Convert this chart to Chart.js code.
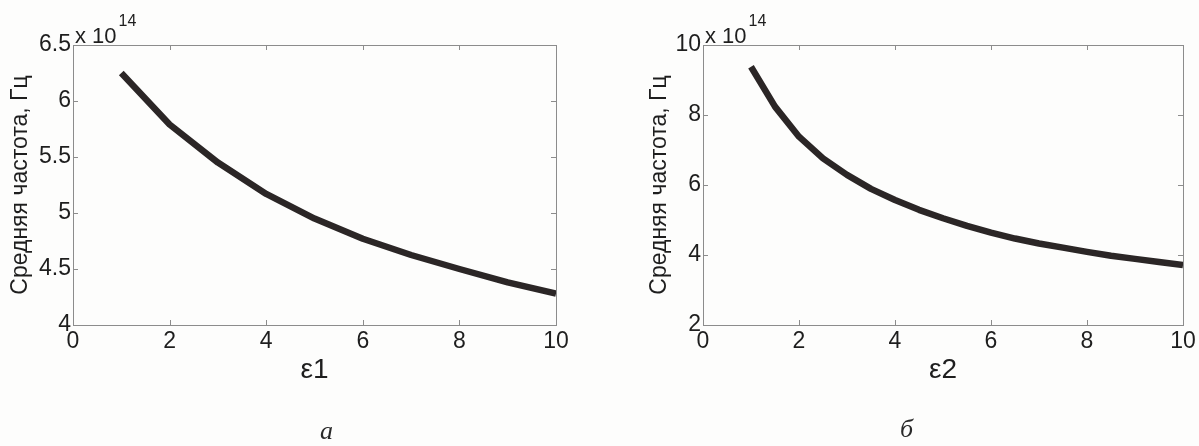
<!DOCTYPE html>
<html>
<head>
<meta charset="utf-8">
<script src="https://cdn.jsdelivr.net/npm/chart.js@4.4.1/dist/chart.umd.min.js"></script>
<style>
    body { margin: 0; background: #fdfdfc; width: 1199px; height: 446px; position: relative; overflow: hidden; }
    .panel { position: absolute; top: 0; height: 446px; }
    .cap { position: absolute; font-family: "Liberation Serif", serif; font-style: italic; font-size: 26px; color: #2a2a2a; }
</style>
</head>
<body>
<div class="panel" style="left:0;width:600px"><canvas id="chartA" width="600" height="446"></canvas></div>
<div class="panel" style="left:600px;width:599px"><canvas id="chartB" width="599" height="446"></canvas></div>
<div class="cap" style="left:320px;top:416px">а</div>
<div class="cap" style="left:900px;top:414px">б</div>
<script>
// ------------------------------
// Data (frequency in units of 10^14 Hz)
// ------------------------------
const eps1 = [1, 2, 3, 4, 5, 6, 7, 8, 9, 10];
const freq1 = [6.25, 5.79, 5.45, 5.17, 4.95, 4.77, 4.625, 4.50, 4.38, 4.28];

const eps2 = [1, 1.5, 2, 2.5, 3, 3.5, 4, 4.5, 5, 5.5, 6, 6.5, 7, 7.5, 8, 8.5, 9, 9.5, 10];
const freq2 = [9.38, 8.24, 7.38, 6.76, 6.29, 5.89, 5.57, 5.29, 5.05, 4.83, 4.64, 4.47, 4.33, 4.21, 4.09, 3.98, 3.89, 3.80, 3.71];

const xTicks = [0, 2, 4, 6, 8, 10];
const yTicks1 = [4, 4.5, 5, 5.5, 6, 6.5];
const yTicks2 = [2, 4, 6, 8, 10];

const yTitle = 'Средняя частота, Гц';
const exponent = '14';

const FONT = '"Liberation Sans", Arial, sans-serif';
const TEXT = '#1e1e1e';
const AXIS = '#8c8c8c';

// MATLAB-like box with inward ticks + "x 10^14" multiplier
const matlabBox = {
    id: 'matlabBox',
    afterDraw(chart) {
        const { ctx, chartArea: a, scales: { x, y } } = chart;
        ctx.save();
        ctx.strokeStyle = AXIS;
        ctx.lineWidth = 1;
        ctx.strokeRect(a.left + 0.5, a.top + 0.5, a.right - a.left, a.bottom - a.top);
        ctx.beginPath();
        x.ticks.forEach(t => {
            const px = Math.round(x.getPixelForValue(t.value)) + 0.5;
            ctx.moveTo(px, a.bottom); ctx.lineTo(px, a.bottom - 5);
            ctx.moveTo(px, a.top); ctx.lineTo(px, a.top + 5);
        });
        y.ticks.forEach(t => {
            const py = Math.round(y.getPixelForValue(t.value)) + 0.5;
            ctx.moveTo(a.left, py); ctx.lineTo(a.left + 5, py);
            ctx.moveTo(a.right, py); ctx.lineTo(a.right - 5, py);
        });
        ctx.stroke();

        ctx.fillStyle = TEXT;
        ctx.textBaseline = 'alphabetic';
        ctx.textAlign = 'left';
        ctx.font = '22px ' + FONT;
        const label = 'x 10';
        ctx.fillText(label, a.left + 2, a.top - 2);
        const w = ctx.measureText(label).width;
        ctx.font = '16px ' + FONT;
        ctx.fillText(exponent, a.left + 4 + w, a.top - 19);
        ctx.restore();
    }
};

function makeChart(id, xs, ys, yMin, yMax, yList, xTitle, yAxisWidth, rightPad, yTitlePad) {
    const points = xs.map((v, i) => ({ x: v, y: ys[i] }));
    return new Chart(document.getElementById(id), {
        type: 'line',
        data: {
            datasets: [{
                data: points,
                borderColor: '#2b2626',
                borderWidth: 6.5,
                pointRadius: 0,
                tension: 0,
                fill: false,
                borderJoinStyle: 'round'
            }]
        },
        options: {
            responsive: false,
            animation: false,
            layout: { padding: { top: 45, right: rightPad, left: 0, bottom: 0 } },
            plugins: { legend: { display: false }, tooltip: { enabled: false } },
            scales: {
                x: {
                    type: 'linear',
                    min: 0, max: 10,
                    afterBuildTicks: s => { s.ticks = xTicks.map(v => ({ value: v })); },
                    afterFit: s => { s.height = 121; },
                    grid: { display: false, drawTicks: false },
                    border: { display: false },
                    ticks: { color: TEXT, padding: 3, maxRotation: 0, font: { family: FONT, size: 23 } },
                    title: { display: true, text: xTitle, color: TEXT, padding: { top: 0, bottom: 59 }, font: { family: FONT, size: 28 } }
                },
                y: {
                    type: 'linear',
                    min: yMin, max: yMax,
                    afterBuildTicks: s => { s.ticks = yList.map(v => ({ value: v })); },
                    afterFit: s => { s.width = yAxisWidth; },
                    grid: { display: false, drawTicks: false },
                    border: { display: false },
                    ticks: { color: TEXT, padding: 2, font: { family: FONT, size: 23 }, callback: v => String(v) },
                    title: { display: true, text: yTitle, color: TEXT, padding: { top: yTitlePad, bottom: 0 }, font: { family: FONT, size: 23 } }
                }
            }
        },
        plugins: [matlabBox]
    });
}

makeChart('chartA', eps1, freq1, 4, 6.5, yTicks1, 'ε1', 73, 44, 7);
makeChart('chartB', eps2, freq2, 2, 10, yTicks2, 'ε2', 103, 16, 46);
</script>
</body>
</html>
